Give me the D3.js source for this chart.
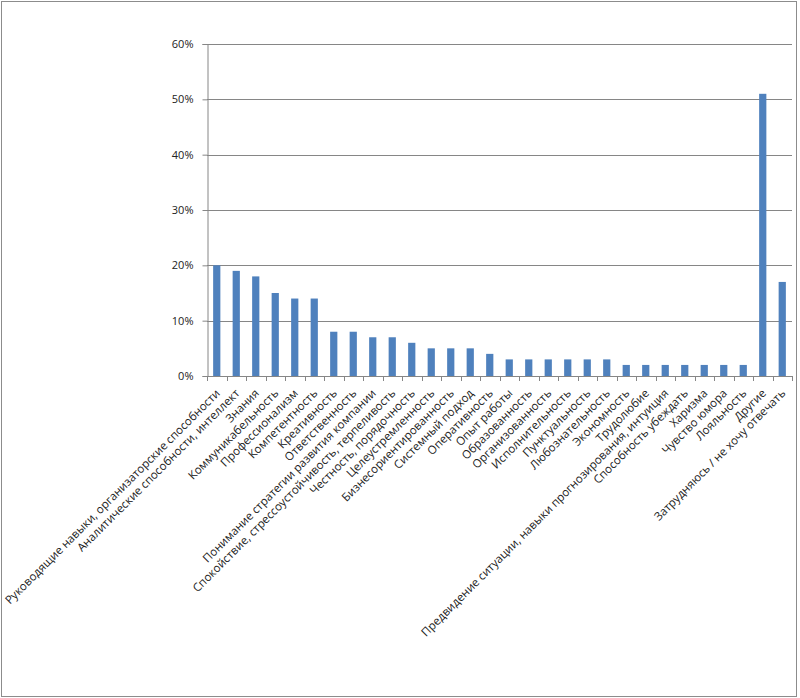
<!DOCTYPE html>
<html>
<head>
<meta charset="utf-8">
<script src="https://cdn.jsdelivr.net/npm/d3@7"></script>
<style>
  body { margin: 0; background: #fff; }
  svg { display: block; }
</style>
</head>
<body>
<div id="chart"></div>
<script>
// категории и значения (в процентах)
var categories = [
  "Руководящие навыки, организаторские способности",
  "Аналитические способности, интеллект",
  "Знания",
  "Коммуникабельность",
  "Профессионализм",
  "Компетентность",
  "Креативность",
  "Ответственность",
  "Понимание стратегии развития компании",
  "Спокойствие, стрессоустойчивость, терпеливость",
  "Честность, порядочность",
  "Целеустремленность",
  "Бизнесориентированность",
  "Системный подход",
  "Оперативность",
  "Опыт работы",
  "Образованность",
  "Организованность",
  "Исполнительность",
  "Пунктуальность",
  "Любознательность",
  "Экономность",
  "Трудолюбие",
  "Предвидение ситуации, навыки прогнозирования, интуиция",
  "Способность убеждать",
  "Харизма",
  "Чувство юмора",
  "Лояльность",
  "Другие",
  "Затрудняюсь / не хочу отвечать"
];
var values = [20, 19, 18, 15, 14, 14, 8, 8, 7, 7, 6, 5, 5, 5, 4, 3, 3, 3, 3, 3, 3, 2, 2, 2, 2, 2, 2, 2, 51, 17];
var yTicks = [0, 10, 20, 30, 40, 50, 60];

var w = 800, h = 698;
var pLeft = 207, pRight = 792, pTop = 44, pBottom = 376;

var svg = d3.select("#chart").append("svg")
    .attr("width", w)
    .attr("height", h);

// рамка вокруг диаграммы
svg.append("rect")
    .attr("x", 1.5).attr("y", 1.5)
    .attr("width", w - 5).attr("height", h - 3)
    .attr("fill", "none")
    .attr("stroke", "#8c8c8c");

var x = d3.scaleBand().domain(categories).range([pLeft, pRight]).paddingInner(0.63).paddingOuter(0.315);
var y = d3.scaleLinear().domain([0, 60]).range([pBottom, pTop]);

// сетка
svg.selectAll(".grid")
    .data(yTicks.slice(1))
    .enter()
    .append("line")
    .attr("class", "grid")
    .attr("x1", pLeft).attr("x2", pRight)
    .attr("y1", function(d){ return Math.round(y(d)) + 0.5; })
    .attr("y2", function(d){ return Math.round(y(d)) + 0.5; })
    .attr("stroke", "#868686");

// столбики
svg.selectAll(".bar")
    .data(values)
    .enter()
    .append("rect")
    .attr("class", "bar")
    .attr("x", function(d, i){ return x(categories[i]); })
    .attr("width", x.bandwidth())
    .attr("y", function(d){ return y(d); })
    .attr("height", function(d){ return y(0) - y(d); })
    .attr("fill", "#4f81bd");

// ось Y
var yAxis = d3.axisLeft(y).tickValues(yTicks).tickSize(5).tickFormat(function(d){ return d + "%"; });
var gy = svg.append("g")
    .attr("transform", "translate(" + (pLeft + 0.5) + ",0)")
    .call(yAxis);
gy.select(".domain").attr("stroke", "#868686");
gy.selectAll(".tick line").attr("stroke", "#868686");
gy.selectAll(".tick text")
    .attr("font-family", "Open Sans, sans-serif")
    .attr("font-size", "11px")
    .attr("fill", "#222")
    .attr("dx", "-6");

// ось X: засечки между категориями
var tickPos = d3.range(categories.length + 1).map(function(i){ return pLeft + i * (pRight - pLeft) / categories.length; });
svg.append("line")
    .attr("x1", pLeft).attr("x2", pRight)
    .attr("y1", pBottom + 0.5).attr("y2", pBottom + 0.5)
    .attr("stroke", "#868686");
svg.selectAll(".xtick")
    .data(tickPos)
    .enter()
    .append("line")
    .attr("class", "xtick")
    .attr("x1", function(d){ return Math.round(d) + 0.5; })
    .attr("x2", function(d){ return Math.round(d) + 0.5; })
    .attr("y1", pBottom).attr("y2", pBottom + 5)
    .attr("stroke", "#868686");

// подписи категорий под углом 45°
svg.selectAll(".xlabel")
    .data(categories)
    .enter()
    .append("text")
    .attr("class", "xlabel")
    .attr("text-anchor", "end")
    .attr("transform", function(d){
        var cx = x(d) + x.bandwidth() / 2 + 4;
        return "translate(" + cx + "," + (pBottom + 18) + ") rotate(-45)";
    })
    .attr("font-family", "Open Sans, sans-serif")
    .attr("font-size", "11.5px")
    .attr("fill", "#222")
    .text(function(d){ return d; });
</script>
</body>
</html>
